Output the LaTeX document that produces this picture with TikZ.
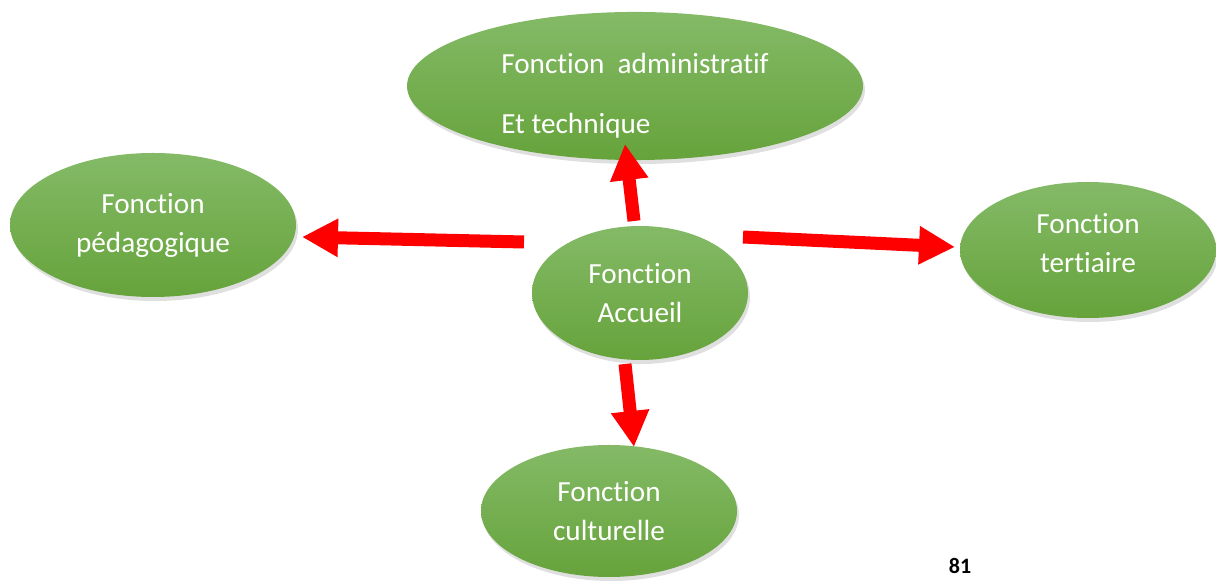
\documentclass[tikz,border=0pt]{standalone}
\usepackage{fontspec}
\setmainfont{Carlito}[Ligatures=NoCommon]
\usetikzlibrary{arrows.meta,shadows,shapes.geometric}
\definecolor{vertclair}{HTML}{84BA67}
\definecolor{vertfonce}{HTML}{66A33B}
\tikzset{
  fct/.style={ellipse, inner sep=0pt, top color=vertclair, bottom color=vertfonce, text=white,
    font=\fontsize{14.6}{19.5}\selectfont, align=center,
    drop shadow={shadow xshift=1pt, shadow yshift=-2pt, opacity=0.25}},
  fleche/.style={draw=red, line width=6.5pt, -{Triangle[width=18pt,length=18pt]}}
}
\begin{document}
\begin{tikzpicture}[x=0.5pt,y=-0.5pt]
\useasboundingbox (0,0) rectangle (1216,581);
\node[fct, minimum width=228pt, minimum height=74pt, align=left, font=\fontsize{14.6}{30}\selectfont] (adm) at (635,86) {\rule{0pt}{20pt}Fonction~~administratif\\Et technique};
\node[fct, minimum width=143pt, minimum height=72pt] (ped) at (153,225) {Fonction\\pédagogique};
\node[fct, minimum width=108pt, minimum height=67pt] (acc) at (640,293) {Fonction\\Accueil};
\node[fct, minimum width=128pt, minimum height=68pt] (ter) at (1088,250) {Fonction\\tertiaire\rule[-7pt]{0pt}{0pt}};
\node[fct, minimum width=128pt, minimum height=66pt] (cul) at (609,511) {Fonction\\culturelle};
\node[font=\bfseries\fontsize{11}{13}\selectfont] (page) at (960,566) {81};
\coordinate (hautA) at (634,221);
\coordinate (hautB) at (625,144);
\coordinate (basA) at (625,364);
\coordinate (basB) at (634,447);
\coordinate (gaucheA) at (524,242);
\coordinate (gaucheB) at (302,237);
\coordinate (droiteA) at (743,237);
\coordinate (droiteB) at (955,247);
\draw[fleche] (hautA) -- (hautB);
\draw[fleche] (basA) -- (basB);
\draw[fleche] (gaucheA) -- (gaucheB);
\draw[fleche] (droiteA) -- (droiteB);
\end{tikzpicture}
\end{document}
